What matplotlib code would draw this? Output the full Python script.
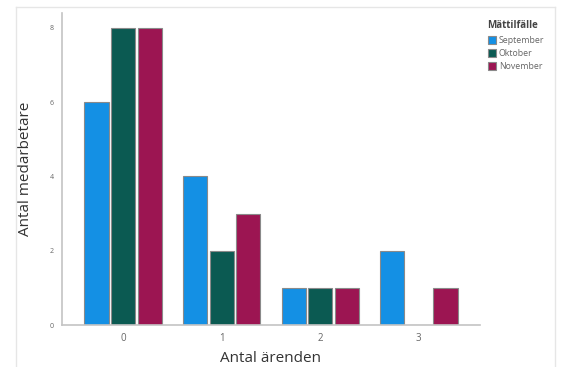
import matplotlib
matplotlib.use("Agg")
import matplotlib.pyplot as plt
import numpy as np
from matplotlib.lines import Line2D

plt.rcParams['font.family'] = ['Open Sans', 'DejaVu Sans']

categories = ["0", "1", "2", "3"]
series_names = ["September", "Oktober", "November"]
september = [6, 4, 1, 2]
oktober = [8, 2, 1, 0]
november = [8, 3, 1, 1]
colors = ["#1490e4", "#0b5a52", "#9c1552"]

fig = plt.figure(figsize=(5.61, 3.67), dpi=100)
ax = fig.add_axes([0.1105, 0.1144, 0.745, 0.8502])

x = np.arange(len(categories))
width = 0.245
step = 0.27
for i, (vals, name) in enumerate(zip([september, oktober, november], series_names)):
    ax.bar(x + (i - 1) * step, vals, width, color=colors[i], edgecolor="#8a8a8a",
           linewidth=0.8, label=name, zorder=2)

ax.set_xlim(-0.62, 3.62)
ax.set_ylim(0, 8.4)
ax.set_yticks([0, 2, 4, 6, 8])
ax.set_xticks(x)
ax.set_xticklabels(categories)
for s in ["top", "right"]:
    ax.spines[s].set_visible(False)
for s in ["left", "bottom"]:
    ax.spines[s].set_color("#c4c4c4")
    ax.spines[s].set_linewidth(1.2)
ax.tick_params(axis="y", length=0, labelsize=5, labelcolor="#666666", pad=6)
ax.tick_params(axis="x", length=0, labelsize=7, labelcolor="#666666", pad=6)
ax.set_xlabel("Antal ärenden", fontsize=11, color="#333333", labelpad=5)
ax.set_ylabel("Antal medarbetare", fontsize=11, color="#333333", labelpad=12)

leg = ax.legend(title="Mättilfälle", loc="upper left", bbox_to_anchor=(1.01, 0.99),
                frameon=False, fontsize=6.3, title_fontsize=7,
                handlelength=1.0, handleheight=1.0, handletextpad=0.3,
                labelspacing=0.45, borderaxespad=0)
leg.get_title().set_fontweight("bold")
leg.get_title().set_color("#444444")
leg._legend_box.align = "left"
leg._legend_box.sep = 4
for t in leg.get_texts():
    t.set_color("#666666")

# light frame around the chart
fc = "#e6e6e6"
fig.add_artist(Line2D([16 / 561, 16 / 561], [0, 1 - 7 / 367], color=fc, lw=1))
fig.add_artist(Line2D([555 / 561, 555 / 561], [0, 1 - 7 / 367], color=fc, lw=1))
fig.add_artist(Line2D([16 / 561, 555 / 561], [1 - 7 / 367, 1 - 7 / 367], color=fc, lw=1))

fig.savefig("out.png", dpi=100)
